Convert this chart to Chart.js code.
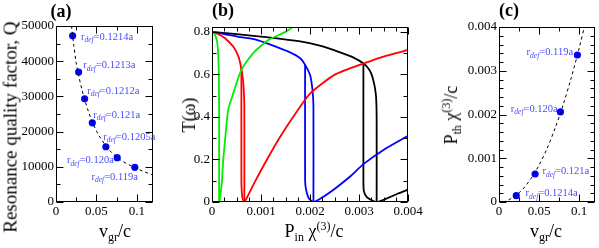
<!DOCTYPE html>
<html><head><meta charset="utf-8">
<script src="https://cdn.jsdelivr.net/npm/chart.js@4.4.1/dist/chart.umd.min.js"></script>
<style>
html,body{margin:0;padding:0;background:#fff;}
body{width:599px;height:248px;position:relative;overflow:hidden;}
canvas{position:absolute;left:0;top:0;}
.t{position:absolute;font-family:"Liberation Serif","Times New Roman",serif;color:#000;white-space:nowrap;line-height:1;}
.pl{font-weight:bold;font-size:18px;transform:translate(-50%,-50%);}
.ax{font-size:18px;}
.h{transform:translate(-50%,-50%);}
.v{transform:translate(-50%,-50%) rotate(-90deg);}
.t sub{font-size:12px;vertical-align:-4px;line-height:0;}
.t sup{font-size:12px;vertical-align:7px;line-height:0;}
</style></head><body>
<canvas id="cA" width="599" height="248"></canvas>
<canvas id="cB" width="599" height="248"></canvas>
<canvas id="cC" width="599" height="248"></canvas>
<div class="t pl" style="left:61px;top:11px">(a)</div>
<div class="t pl" style="left:223px;top:10px">(b)</div>
<div class="t pl" style="left:509px;top:10px">(c)</div>
<div class="t ax v" style="left:10px;top:127px;font-size:19px">Resonance quality factor, Q</div>
<div class="t ax h" style="left:115px;top:231px">v<sub>gr</sub>/c</div>
<div class="t ax v" style="left:189px;top:115px">T(ω)</div>
<div class="t ax h" style="left:314px;top:231px">P<sub>in</sub> χ<sup>(3)</sup>/c</div>
<div class="t ax v" style="left:451px;top:115px">P<sub>th</sub> χ<sup>(3)</sup>/c</div>
<div class="t ax h" style="left:546px;top:231px">v<sub>gr</sub>/c</div>
<script>
// ---------- DATA ----------
// (a) resonance quality factor vs group velocity
const aVgr   = [0.0206, 0.028, 0.0354, 0.0449, 0.0617, 0.0757, 0.0975];
const aQ     = [47200, 36900, 29300, 22500, 15700, 12600, 9850];
const aRdef  = ['0.1214a','0.1213a','0.1212a','0.121a','0.1205a','0.120a','0.119a'];
const aFitVgr = [0.0192,0.022,0.025,0.028,0.032,0.036,0.04,0.045,0.05,0.055,0.06,0.065,0.07,0.075,0.08,0.09,0.1,0.11,0.12];
const aFitQ   = [50000,44500,39500,36000,32000,28700,25800,22700,20200,18200,16500,15000,13800,12800,11900,10600,9500,8500,7700];
const aXTicks = [0, 0.05, 0.1];
const aYTicks = [0, 10000, 20000, 30000, 40000, 50000];

// (b) transmission vs input power
const blackUpP = [0,0.0009,0.0018,0.0022,0.0026,0.0029,0.0031,0.0032,0.00326,0.0033,0.00333,0.00335,0.00336,0.00336];
const blackUpT = [0.80,0.78,0.755,0.735,0.705,0.678,0.65,0.625,0.598,0.565,0.53,0.49,0.40,0.0];
const blackLoP = [0.00309,0.00309,0.0031,0.00316,0.00326,0.00336,0.0035,0.00363,0.0038,0.004];
const blackLoT = [0.652,0.10,0.05,0.023,0.008,0.0,0.01,0.023,0.04,0.058];
const blueUpP = [0,0.00025,0.00054,0.00088,0.00122,0.00156,0.0018,0.0019,0.002,0.00205,0.00207,0.00207];
const blueUpT = [0.80,0.79,0.777,0.765,0.738,0.707,0.676,0.645,0.598,0.528,0.45,0.0];
const blueLoP = [0.0019,0.0019,0.00192,0.00197,0.00206,0.0022,0.00248,0.00282,0.00309,0.0035,0.004];
const blueLoT = [0.645,0.10,0.058,0.02,0.0,0.014,0.058,0.12,0.178,0.245,0.311];
const redUpP = [0,0.00012,0.000265,0.000435,0.00054,0.00059,0.00063,0.00065,0.00066,0.00066];
const redUpT = [0.80,0.79,0.77,0.73,0.684,0.637,0.58,0.52,0.45,0.0];
const redLoP = [0.0006,0.0006,0.00061,0.00063,0.00066,0.00071,0.00088,0.00112,0.00142,0.0017,0.002,0.0025,0.0031,0.0035,0.004];
const redLoT = [0.635,0.10,0.04,0.012,0.0,0.019,0.097,0.199,0.317,0.415,0.51,0.598,0.652,0.684,0.715];
const greenUpP = [0,0.00005,0.0001,0.00012,0.00013,0.00014,0.000145,0.000145];
const greenUpT = [0.80,0.79,0.76,0.72,0.68,0.60,0.45,0.0];
const greenLoP = [0.00015,0.00017,0.0002,0.00023,0.00028,0.00033,0.000435,0.0006,0.00084,0.00115,0.0015,0.0017];
const greenLoT = [0.0,0.03,0.089,0.2,0.324,0.433,0.512,0.621,0.70,0.762,0.80,0.83];
const bXTicks = [0, 0.001, 0.002, 0.003, 0.004];
const bYTicks = [0, 0.2, 0.4, 0.6, 0.8];

// (c) threshold power vs group velocity
const cVgr  = [0.0216, 0.0451, 0.0768, 0.098];
const cPth  = [0.000144, 0.00064, 0.00206, 0.00336];
const cRdef = ['0.1214a','0.121a','0.120a','0.119a'];
const cFitVgr = [0.005,0.01,0.015,0.02,0.025,0.03,0.035,0.04,0.045,0.05,0.06,0.07,0.08,0.09,0.1,0.108];
const cFitP   = [0.0,0.00003,0.00008,0.00014,0.00021,0.0003,0.00041,0.00054,0.00068,0.00084,0.00122,0.00168,0.00221,0.00282,0.0035,0.0041];
const cXTicks = [0, 0.05, 0.1];
const cYTicks = [0, 0.001, 0.002, 0.003, 0.004];

// ---------- STYLE / LAYOUT ----------
const FONT = '"Liberation Serif","Times New Roman",serif';
const LABEL_COLOR = '#4b4bff';
Chart.defaults.font.family = FONT;
Chart.defaults.color = '#000';
Chart.defaults.animation = false;

const fmt = v => Number(Number(v).toFixed(6)).toString();
const pts = (xs, ys) => xs.map((x, i) => ({x, y: ys[i]}));

function axis(min, max, tickVals, isX) {
  return {
    type: 'linear', min, max,
    grid: {display: false, drawTicks: false}, border: {display: false},
    afterBuildTicks(s) { s.ticks = tickVals.map(v => ({value: v})); },
    afterFit(s) { if (isX) s.height = 24; else s.width = 40; },
    ticks: {autoSkip: false, maxRotation: 0, padding: 2, font: {size: 13, family: FONT}, color: '#000', callback: v => fmt(v)}
  };
}

function framePlugin(xMajor, xMinor, yMajor, yMinor) {
  return {
    id: 'frame',
    afterDatasetsDraw(chart) {
      const {ctx, chartArea: a} = chart;
      const xs = chart.scales.x, ys = chart.scales.y;
      const L = Math.round(a.left) + 0.5, R = Math.round(a.right) - 0.5;
      const T = Math.round(a.top) + 0.5, B = Math.round(a.bottom) - 0.5;
      ctx.save();
      ctx.strokeStyle = '#000'; ctx.lineWidth = 1;
      ctx.strokeRect(L, T, R - L, B - T);
      ctx.beginPath();
      const isMaj = (v, m) => Math.abs(v / m - Math.round(v / m)) < 1e-6;
      for (let i = 0; ; i++) {
        const v = xs.min + i * xMinor; if (v > xs.max + 1e-12) break;
        const len = isMaj(v, xMajor) ? 7 : 4;
        const px = Math.round(xs.getPixelForValue(v)) + 0.5;
        ctx.moveTo(px, B); ctx.lineTo(px, B - len);
        ctx.moveTo(px, T); ctx.lineTo(px, T + len);
      }
      for (let i = 0; ; i++) {
        const v = ys.min + i * yMinor; if (v > ys.max + 1e-12) break;
        const len = isMaj(v, yMajor) ? 7 : 4;
        const py = Math.round(ys.getPixelForValue(v)) + 0.5;
        ctx.moveTo(L, py); ctx.lineTo(L + len, py);
        ctx.moveTo(R, py); ctx.lineTo(R - len, py);
      }
      ctx.stroke();
      ctx.restore();
    }
  };
}

function drawRdef(ctx, x, y, text, align) {
  const big = '10.5px ' + FONT, small = 'italic 7.5px ' + FONT;
  ctx.font = big;
  const w1 = ctx.measureText('r').width, w3 = ctx.measureText('=' + text).width;
  ctx.font = small;
  const w2 = ctx.measureText('def').width;
  const W = w1 + w2 + w3;
  const x0 = align === 'right' ? x - W : x;
  ctx.fillStyle = LABEL_COLOR; ctx.textBaseline = 'alphabetic'; ctx.textAlign = 'left';
  ctx.font = big;   ctx.fillText('r', x0, y + 3.5);
  ctx.font = small; ctx.fillText('def', x0 + w1, y + 6);
  ctx.font = big;   ctx.fillText('=' + text, x0 + w1 + w2, y + 3.5);
}

function labelPlugin(xVals, yVals, texts, offsets) {
  return {
    id: 'rdefLabels',
    afterDatasetsDraw(chart) {
      const {ctx} = chart, xs = chart.scales.x, ys = chart.scales.y;
      ctx.save();
      texts.forEach((t, i) => {
        const [dx, dy, al] = offsets[i];
        drawRdef(ctx, xs.getPixelForValue(xVals[i]) + dx, ys.getPixelForValue(yVals[i]) + dy, t, al);
      });
      ctx.restore();
    }
  };
}

const common = {responsive: false, maintainAspectRatio: false, animation: false, events: [],
  plugins: {legend: {display: false}, tooltip: {enabled: false}, title: {display: false}}};

const aOffsets = [[8.3,0.6,'left'],[4.6,-7.6,'left'],[2.6,-8.7,'left'],[1,-8.7,'left'],[-2.7,-10.7,'left'],[-3.3,2.3,'right'],[-43.3,8.7,'left']];
const cOffsets = [[9.3,-3,'left'],[7.3,-3.3,'left'],[-2.7,-3.7,'right'],[-4.3,-3.3,'right']];

const dashStyle = {borderColor: '#000', borderWidth: 1, borderDash: [3, 3], pointRadius: 0, showLine: true, tension: 0.3, fill: false};
const dotStyle = {backgroundColor: '#0000ff', borderWidth: 0, pointRadius: 3.6, showLine: false};

// (a)
new Chart(document.getElementById('cA'), {
  type: 'scatter',
  data: {datasets: [
    Object.assign({data: pts(aFitVgr, aFitQ)}, dashStyle),
    Object.assign({data: pts(aVgr, aQ)}, dotStyle)
  ]},
  options: Object.assign({}, common, {
    layout: {padding: {left: 16, right: 446, top: 26, bottom: 22}},
    scales: {x: axis(0, 0.12, aXTicks, true), y: axis(0, 50000, aYTicks, false)}
  }),
  plugins: [framePlugin(0.05, 0.025, 10000, 5000), labelPlugin(aVgr, aQ, aRdef, aOffsets)]
});

// (b)
const lineStyle = c => ({borderColor: c, borderWidth: 1.8, pointRadius: 0, showLine: true, tension: 0.2, fill: false});
new Chart(document.getElementById('cB'), {
  type: 'scatter',
  data: {datasets: [
    Object.assign({data: pts(greenUpP, greenUpT)}, lineStyle('#00ee00')),
    Object.assign({data: pts(greenLoP, greenLoT)}, lineStyle('#00ee00')),
    Object.assign({data: pts(redUpP, redUpT)}, lineStyle('#ff0000')),
    Object.assign({data: pts(redLoP, redLoT)}, lineStyle('#ff0000')),
    Object.assign({data: pts(blueUpP, blueUpT)}, lineStyle('#0000ff')),
    Object.assign({data: pts(blueLoP, blueLoT)}, lineStyle('#0000ff')),
    Object.assign({data: pts(blackUpP, blackUpT)}, lineStyle('#000000')),
    Object.assign({data: pts(blackLoP, blackLoT)}, lineStyle('#000000'))
  ]},
  options: Object.assign({}, common, {
    layout: {padding: {left: 172, right: 191, top: 27, bottom: 22}},
    scales: {x: axis(0, 0.004, bXTicks, true), y: axis(0, 0.823, bYTicks, false)}
  }),
  plugins: [framePlugin(0.001, 0.00025, 0.2, 0.1)]
});

// (c)
new Chart(document.getElementById('cC'), {
  type: 'scatter',
  data: {datasets: [
    Object.assign({data: pts(cFitVgr, cFitP)}, dashStyle),
    Object.assign({data: pts(cVgr, cPth)}, dotStyle)
  ]},
  options: Object.assign({}, common, {
    layout: {padding: {left: 459, right: 2, top: 27, bottom: 22}},
    scales: {x: axis(0, 0.12, cXTicks, true), y: axis(0, 0.004, cYTicks, false)}
  }),
  plugins: [framePlugin(0.05, 0.025, 0.001, 0.0002), labelPlugin(cVgr, cPth, cRdef, cOffsets)]
});
</script>
</body></html>
